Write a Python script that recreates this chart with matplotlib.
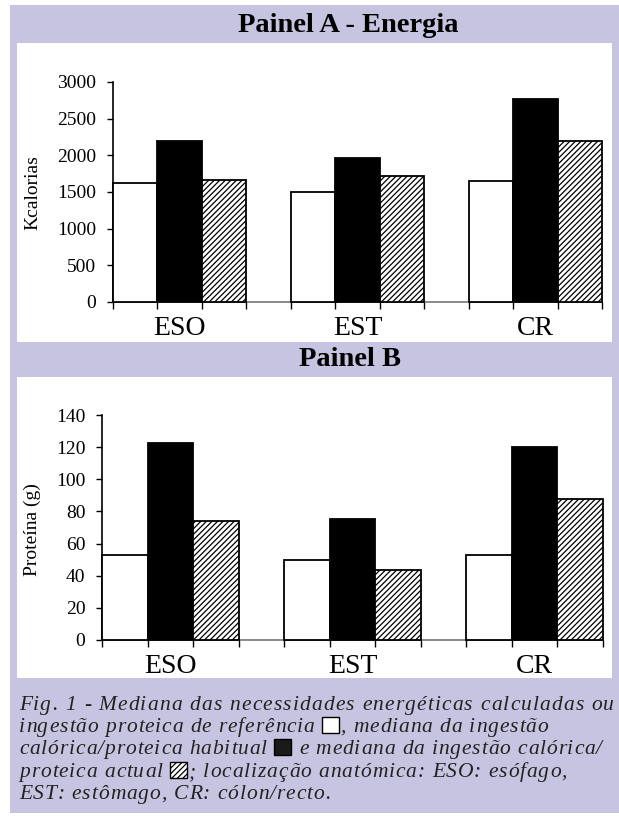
import matplotlib
matplotlib.use('Agg')
import matplotlib.pyplot as plt
from matplotlib.patches import Rectangle
from matplotlib.font_manager import FontProperties, findfont, get_font

W, H = 619, 823
DPI = 100

categories = ['ESO', 'EST', 'CR']
energy_ref = [1620, 1500, 1650]
energy_habitual = [2200, 1965, 2770]
energy_actual = [1670, 1720, 2195]
protein_ref = [53, 50, 53]
protein_habitual = [122.5, 75.5, 120]
protein_actual = [74, 43.5, 87.5]
energy_ticks = [0, 500, 1000, 1500, 2000, 2500, 3000]
protein_ticks = [0, 20, 40, 60, 80, 100, 120, 140]

caption_lines = [
    ["Fig. 1 - Mediana das necessidades energéticas calculadas ou"],
    ["ingestão proteica de referência ", "W", ", mediana da ingestão"],
    ["calórica/proteica habitual ", "B", " e mediana da ingestão calórica/"],
    ["proteica actual ", "H", "; localização anatómica: ESO: esófago,"],
    ["EST: estômago, CR: cólon/recto."],
]

LAV = '#c7c4e1'
SERIF = 'Liberation Serif'
HATCH = '//////'
plt.rcParams['hatch.linewidth'] = 0.9

fig = plt.figure(figsize=(W / DPI, H / DPI), dpi=DPI)
fig.patch.set_facecolor('white')


def fx(px):
    return px / W


def fy(py):
    return 1 - py / H


def frect(x0, y0, x1, y1, **kw):
    r = Rectangle((fx(x0), fy(y1)), (x1 - x0) / W, (y1 - y0) / H,
                  transform=fig.transFigure, figure=fig, **kw)
    fig.patches.append(r)
    return r


frect(10, 5, 619, 813, facecolor=LAV, edgecolor='none', zorder=-3)
frect(17, 43, 612, 342, facecolor='white', edgecolor='none', zorder=-2)
frect(17, 377, 612, 678, facecolor='white', edgecolor='none', zorder=-2)


def panel(left_px, right_px, top_px, bottom_px, ref, hab, act, ticks, ylabel, ylab_xy):
    ax = fig.add_axes([fx(left_px), fy(bottom_px), (right_px - left_px) / W,
                       (bottom_px - top_px) / H])
    ax.set_facecolor('none')
    n = len(categories)
    step = 4
    xs = [i * step for i in range(n)]
    kw = dict(width=1, align='edge', edgecolor='black', linewidth=1.3, zorder=3, clip_on=False)
    ax.bar(xs, ref, facecolor='white', **kw)
    ax.bar([x + 1 for x in xs], hab, facecolor='black', **kw)
    ax.bar([x + 2 for x in xs], act, facecolor='white', hatch=HATCH, **kw)
    ax.set_xlim(0, step * (n - 1) + 3)
    ax.set_ylim(0, ticks[-1])
    ax.set_yticks(ticks)
    ax.set_yticklabels([str(t) for t in ticks], fontfamily=SERIF, fontsize=14)
    edges = [x + k for x in xs for k in range(4)]
    ax.set_xticks(edges)
    ax.set_xticklabels([])
    ax.set_xticks([x + 1.5 for x in xs], minor=True)
    ax.set_xticklabels(categories, minor=True, fontfamily=SERIF, fontsize=20)
    ax.tick_params(axis='x', which='major', direction='out', length=5, width=1, color='black')
    ax.tick_params(axis='x', which='minor', length=0, pad=10)
    ax.tick_params(axis='y', direction='out', length=4, width=1, pad=8)
    for s in ['top', 'right']:
        ax.spines[s].set_visible(False)
    ax.spines['left'].set_linewidth(1.2)
    ax.spines['bottom'].set_color('#777777')
    ax.spines['bottom'].set_linewidth(1.2)
    fig.text(fx(ylab_xy[0]), fy(ylab_xy[1]), ylabel, rotation=90, ha='center', va='center',
             fontfamily=SERIF, fontsize=14)
    return ax


panel(113, 602, 82, 302, energy_ref, energy_habitual, energy_actual, energy_ticks,
      'Kcalorias', (33, 193))
panel(102, 603, 415, 640, protein_ref, protein_habitual, protein_actual, protein_ticks,
      'Proteína (g)', (32, 530))

fig.text(fx(348), fy(26), 'Painel A - Energia', ha='center', va='center',
         fontfamily=SERIF, fontweight='bold', fontsize=20.5)
fig.text(fx(350), fy(359), 'Painel B', ha='center', va='center',
         fontfamily=SERIF, fontweight='bold', fontsize=20.5)

# caption with letter spacing
CAP_SIZE = 15.5
cap_fp = FontProperties(family=SERIF, style='italic', size=CAP_SIZE)
font = get_font(findfont(cap_fp))


def adv(ch):
    font.set_size(CAP_SIZE, DPI)
    g = font.load_char(ord(ch))
    return g.linearHoriAdvance / 65536


BOX_W = 17
x_start = 19
line_ends = [614, 548, 602, 567, None]
baselines = [710, 732, 754, 777, 799]
box_styles = {
    'W': dict(facecolor='white'),
    'B': dict(facecolor='#1a1a1a'),
    'H': dict(facecolor='white', hatch='//////'),
}

trackings = []
layouts = []
for toks, end in zip(caption_lines, line_ends):
    units = []
    for t in toks:
        if t in box_styles:
            units.append((t, BOX_W + 1))
        else:
            for ch in t:
                units.append((ch, adv(ch)))
    natural = sum(u[1] for u in units)
    if end is not None:
        tr = (end - x_start - natural) / (len(units) - 1)
        trackings.append(tr)
    else:
        tr = None
    layouts.append([units, tr])

mean_tr = sum(trackings[1:]) / len(trackings[1:])
for lay in layouts:
    if lay[1] is None:
        lay[1] = mean_tr

for (units, tr), base in zip(layouts, baselines):
    x = x_start
    for u, w in units:
        if u in box_styles:
            frect(x, base - 15, x + BOX_W, base + 1, edgecolor='black', linewidth=1.0,
                  zorder=2, **box_styles[u])
        elif u != ' ':
            fig.text(fx(x), fy(base), u, fontproperties=cap_fp, ha='left', va='baseline',
                     color='#222222')
        x += w + tr

fig.savefig('out.png', dpi=DPI)
